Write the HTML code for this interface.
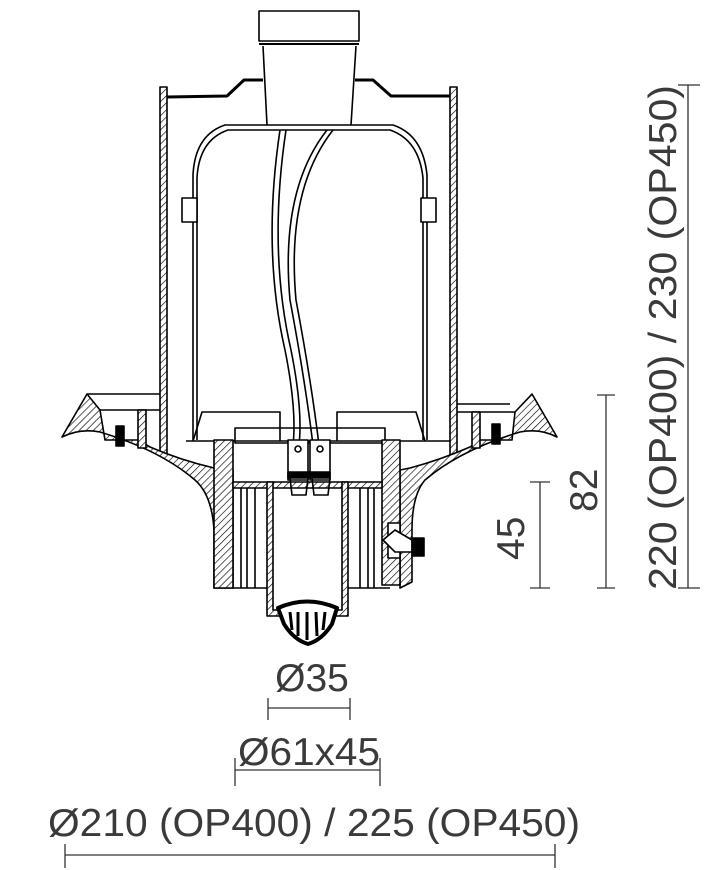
<!DOCTYPE html>
<html><head><meta charset="utf-8"><style>
html,body{margin:0;padding:0;background:#fff;}
svg{display:block;}
text{font-family:"Liberation Sans",sans-serif;fill:#3a3a3a;font-size:39px;}
</style></head><body>
<svg width="719" height="870" viewBox="0 0 719 870" xmlns="http://www.w3.org/2000/svg">
<defs>
<pattern id="h" patternUnits="userSpaceOnUse" width="5" height="5" patternTransform="rotate(45)">
<rect width="5" height="5" fill="#fff"/><line x1="0" y1="0" x2="0" y2="5" stroke="#000" stroke-width="1.3"/>
</pattern>
</defs>
<g fill="none" stroke="#000" stroke-width="1.6" stroke-linejoin="round">
<rect x="259" y="11" width="100" height="30" fill="#fff"/>
<line x1="259" y1="44" x2="359" y2="44" stroke-width="2"/>
<path d="M263 46 L267 125 M356 46 L351 125"/>
<path d="M167 97 L227 96 L244 80 L263 80 M355 80 L373 80 L391 96 L450 96" stroke-width="3"/>
<rect x="160" y="87" width="7" height="368" fill="url(#h)"/>
<rect x="450" y="87" width="7" height="368" fill="url(#h)"/>
<path d="M193 440 L193 175 Q195 135 225 125 L393 125 Q423 135 427 175 L427 440"/>
<path d="M197 440 L197 178 Q199 140 228 130 L390 130 Q419 140 423 178 L423 440"/>
<rect x="182" y="198" width="15" height="24" fill="#fff"/>
<rect x="421" y="198" width="15" height="24" fill="#fff"/>
<path d="M280 130 Q262 250 285 350 Q297 410 293 445"/>
<path d="M286 130 Q268 250 291 350 Q303 410 299 445"/>
<path d="M327 130 Q280 190 290 300 Q305 380 313 445"/>
<path d="M333 130 Q286 190 296 300 Q311 380 319 445"/>
<path d="M193 441 L202 412 L280 412 L280 441"/>
<path d="M337 441 L337 412 L416 412 L425 441"/>
<line x1="186" y1="441" x2="450" y2="441"/>
<rect x="235" y="428" width="150" height="15"/>
<!-- flange left -->
<path d="M62 437 Q80 428 100 432 Q160 450 195 480 Q212 495 214 530 L214 588 L233 588 L233 470 L214 468 Q180 460 150 447 L138 440 L105 440 L100 410 L87 394 Z" fill="url(#h)"/>
<path d="M87 394 L160 394 M100 410 L160 410"/>
<rect x="138" y="410" width="8" height="38" fill="url(#h)"/>
<rect x="116" y="426" width="8" height="20" fill="#000"/>
<!-- flange right -->
<path d="M557 437 Q540 428 520 432 Q460 450 425 480 Q412 495 412 530 L412 582 L400 588 L400 470 L410 468 Q440 460 470 447 L480 440 L512 440 L515 412 L532 394 Z" fill="url(#h)"/>
<path d="M457 404 L510 404 M457 412 L515 412"/>
<rect x="472" y="412" width="8" height="36" fill="url(#h)"/>
<rect x="492" y="424" width="8" height="20" fill="#000"/>
<rect x="214" y="440" width="19" height="148" fill="url(#h)"/>
<rect x="382" y="440" width="18" height="145" fill="url(#h)"/>
<rect x="233" y="482" width="149" height="6" fill="url(#h)"/>
<path d="M233 588 L268 588 M348 588 L390 588 M241 488 L241 588 M247 488 L247 588 M255 488 L255 588 M360 488 L360 588 M368 488 L368 588 M374 488 L374 588"/>
<path d="M267 482 L267 616 L348 616 L348 482 L342 482 L342 610 L273 610 L273 482 Z" fill="url(#h)"/>
<rect x="288" y="440" width="20" height="40" fill="#fff"/>
<rect x="310" y="440" width="20" height="40" fill="#fff"/>
<circle cx="298" cy="449" r="3"/><circle cx="320" cy="449" r="3"/>
<rect x="288" y="472" width="42" height="6" fill="#000"/>
<path d="M290 478 L292 495 L306 495 L308 478 M312 478 L314 495 L328 495 L330 478"/>
<!-- lens -->
<path d="M278 608 Q307 595 337 608 L332 624 Q322 640 308 644 Q294 640 284 624 Z" fill="#fff" stroke-width="4"/>
<path d="M290 612 L292 630 M298 612 L298 636 M307 612 L307 640 M316 612 L317 636 M325 612 L323 630" stroke-width="3"/>
<rect x="388" y="523" width="12" height="35" fill="#fff"/>
<path d="M383 540 L395 530 L412 540 L412 552 L395 552 Z" fill="#fff"/>
<rect x="412" y="538" width="12" height="18" fill="#000"/>
</g>
<g stroke="#333" stroke-width="1.3">
<line x1="268" y1="708" x2="350" y2="708"/><line x1="268" y1="698" x2="268" y2="720"/><line x1="350" y1="698" x2="350" y2="720"/>
<line x1="235" y1="770" x2="380" y2="770"/><line x1="235" y1="758" x2="235" y2="786"/><line x1="380" y1="758" x2="380" y2="786"/>
<line x1="65" y1="855" x2="555" y2="855"/><line x1="65" y1="844" x2="65" y2="868"/><line x1="555" y1="844" x2="555" y2="868"/>
<line x1="688" y1="85" x2="688" y2="588"/><line x1="678" y1="85" x2="700" y2="85"/><line x1="678" y1="588" x2="700" y2="588"/>
<line x1="606" y1="395" x2="606" y2="588"/><line x1="597" y1="395" x2="615" y2="395"/><line x1="597" y1="588" x2="615" y2="588"/>
<line x1="540" y1="482" x2="540" y2="588"/><line x1="530" y1="482" x2="550" y2="482"/><line x1="530" y1="588" x2="550" y2="588"/>
</g>
<text x="312" y="691" text-anchor="middle">Ø35</text>
<text x="309" y="765" text-anchor="middle" textLength="142" lengthAdjust="spacingAndGlyphs">Ø61x45</text>
<text x="48" y="836" textLength="532" lengthAdjust="spacingAndGlyphs">Ø210 (OP400) / 225 (OP450)</text>
<text transform="translate(676,590) rotate(-90)" textLength="505" lengthAdjust="spacingAndGlyphs">220 (OP400) / 230 (OP450)</text>
<text transform="translate(597,512) rotate(-90)">82</text>
<text transform="translate(524,560) rotate(-90)">45</text>
</svg>
</body></html>
